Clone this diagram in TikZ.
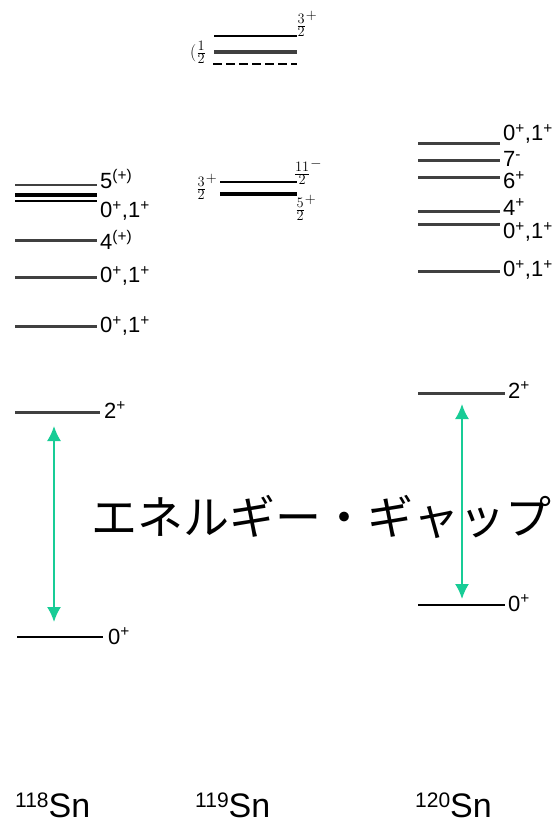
\documentclass[tikz,border=0pt]{standalone}
\usepackage{fontspec}
\usetikzlibrary{arrows.meta}
\setmainfont{Liberation Sans}
\newfontfamily\jpfont{Noto Sans CJK JP}
\definecolor{gapgreen}{RGB}{24,204,150}
\newcommand{\sps}[1]{\textsuperscript{#1}}
\newcommand{\nuc}[2]{\raisebox{10pt}{\fontsize{21}{24}\selectfont #1}{\fontsize{34}{38}\selectfont #2}}
\tikzset{
  level/.style={line width=3pt, black!75},
  lab/.style={anchor=west, inner sep=1pt, font=\fontsize{22}{24}\selectfont},
  frac/.style={inner sep=1pt, font=\fontsize{19}{20}\selectfont},
  gap/.style={{Latex[length=15pt,width=14pt]}-{Latex[length=15pt,width=14pt]}, line width=1.8pt, gapgreen},
}
\begin{document}
\begin{tikzpicture}[x=1pt, y=-1pt]
\useasboundingbox (0,0) rectangle (555,829);

% 118Sn
\draw[level, line width=2.2pt] (15,185)--(97,185);
\draw[level, line width=3.2pt, black] (15,195)--(97,195);
\draw[level, line width=2.6pt, black] (15,201)--(97,201);
\foreach \y in {240,277,326}
  \draw[level] (15,\y)--(97,\y);
\draw[level] (15,412)--(100,412);
\draw[level, black, line width=2.6pt] (17,637)--(103,637);
\foreach \y/\t [count=\i] in {179/{5\sps{(+)}}, 211/{0\sps{+},1\sps{+}}, 240/{4\sps{(+)}}, 276/{0\sps{+},1\sps{+}}, 326/{0\sps{+},1\sps{+}}}
  \node[lab] (a\i) at (99,\y) {\t};
\node[lab] (a6) at (103,410) {2\sps{+}};
\node[lab] (a7) at (107,636) {0\sps{+}};
\coordinate (g118up) at (54,426);
\coordinate (g118dn) at (54,622);
\draw[gap] (g118up)--(g118dn);

% 119Sn
\draw[level, line width=2.4pt, black] (214,36)--(297,36);
\draw[level, line width=3.4pt] (214,52)--(297,52);
\draw[level, line width=2.4pt, black, dash pattern=on 9pt off 4pt] (213,64)--(297,64);
\node[frac] (b1) at (307,24) {$\frac{3}{2}^{+}$};
\node[frac, inner sep=0pt] (b2) at (198,52) {$(\frac{1}{2}$};
\draw[level, line width=2.4pt, black] (220,182)--(297,182);
\draw[level, line width=3.4pt, black] (220,194)--(297,194);
\node[frac] (b3) at (207,187) {$\frac{3}{2}^{+}$};
\node[frac] (b4) at (308,172) {$\frac{11}{2}^{-}$};
\node[frac] (b5) at (306,208) {$\frac{5}{2}^{+}$};

% 120Sn
\foreach \y in {144,161,178,211,224,271}
  \draw[level] (418,\y)--(500,\y);
\draw[level] (418,393)--(505,393);
\draw[level, black, line width=2.6pt] (418,605)--(505,605);
\foreach \y/\t [count=\i] in {134/{0\sps{+},1\sps{+}}, 159/{7\sps{-}}, 180/{6\sps{+}}, 207/{4\sps{+}}, 232/{0\sps{+},1\sps{+}}, 270/{0\sps{+},1\sps{+}}}
  \node[lab] (c\i) at (502,\y) {\t};
\node[lab] (c7) at (507,390) {2\sps{+}};
\node[lab] (c8) at (507,603) {0\sps{+}};
\coordinate (g120up) at (462,404);
\coordinate (g120dn) at (462,599);
\draw[gap] (g120up)--(g120dn);

% energy gap
\node[font=\jpfont\fontsize{46}{50}\selectfont] (gap) at (321,517) {エネルギー・ギャップ};

% nuclei
\node[anchor=base west, inner sep=0pt] (n118) at (15,817) {\nuc{118}{Sn}};
\node[anchor=base west, inner sep=0pt] (n119) at (195,817) {\nuc{119}{Sn}};
\node[anchor=base west, inner sep=0pt] (n120) at (415,817) {\nuc{120}{Sn}};
\end{tikzpicture}
\end{document}
